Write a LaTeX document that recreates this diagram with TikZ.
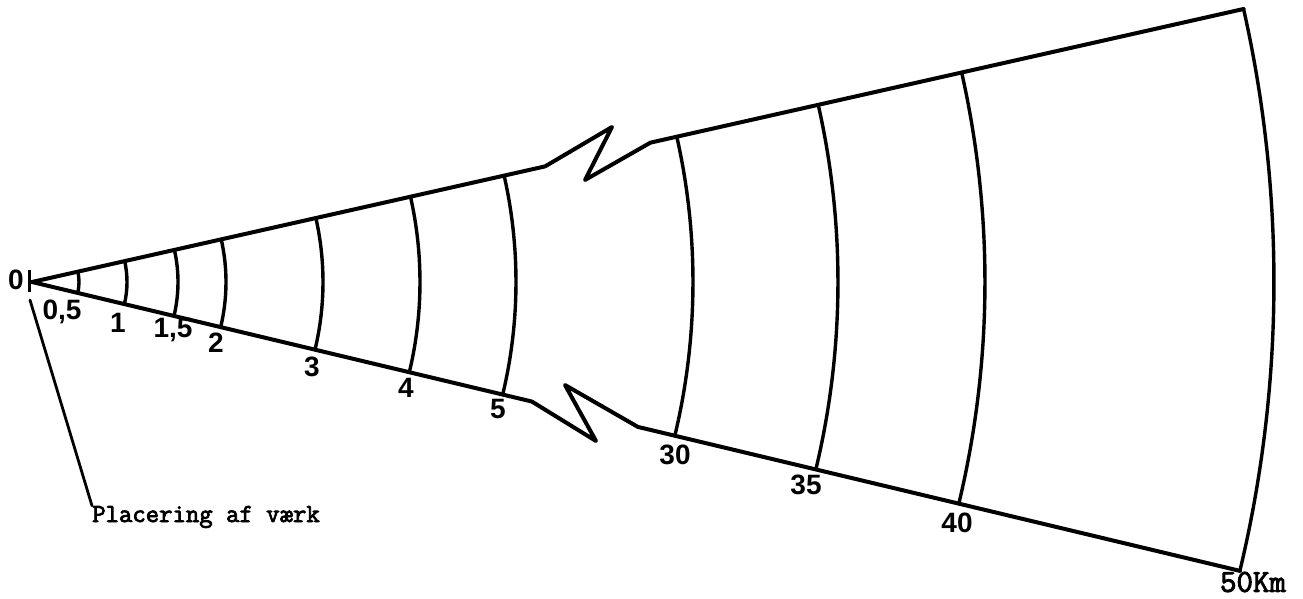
\documentclass[tikz,border=0pt]{standalone}
\usepackage{fontspec}
\newfontfamily\numfont{Liberation Sans}
\newfontfamily\twfont{Latin Modern Mono}[FakeBold=3]
\usetikzlibrary{calc}
\begin{document}
\begin{tikzpicture}[x=1pt,y=1pt,
  edge/.style={line width=4pt, line join=round, line cap=round},
  ring/.style={line width=3.4pt, line cap=round},
  num/.style={font=\numfont\bfseries\fontsize{28}{28}\selectfont, inner sep=0pt},
  tw/.style={font=\twfont\fontsize{26}{26}\selectfont, inner sep=0pt}]
\useasboundingbox (0,0) rectangle (1303,598);
\def\ua{12.7}
\def\la{-13.45}
\coordinate (O) at (32,316);
% upper edge with break
\coordinate (u1) at ($(O)+(\ua:526)$);
\coordinate (u2) at (612,471);
\coordinate (u3) at (585,418);
\coordinate (u4) at ($(O)+(\ua:634)$);
\coordinate (u5) at ($(O)+(\ua:1242)$);
% lower edge with break
\coordinate (l1) at ($(O)+(\la:514)$);
\coordinate (l2) at (596,157);
\coordinate (l3) at (565,213);
\coordinate (l4) at ($(O)+(\la:623)$);
\coordinate (l5) at ($(O)+(\la:1242)$);
\draw[edge] (O) -- (u1) -- (u2) -- (u3) -- (u4) -- (u5);
\draw[edge] (O) -- (l1) -- (l2) -- (l3) -- (l4) -- (l5);
% distance arcs
\foreach \r in {47,95,146,194,291,388,484,661,806,953,1242}
  \draw[ring] ($(O)+(\ua:\r)$) arc[start angle=\ua, end angle=\la, radius=\r pt];
% origin mark
\coordinate (t1) at ($(O)+(-3,12)$);
\coordinate (t2) at ($(O)+(-3,-10)$);
\draw[line width=3pt] (t1) -- (t2);
% labels
\node[num] (n0) at (16,318) {0};
\node[num] (n05) at (62,286) {0,5};
\node[num] (n1) at (118,275) {1};
\node[num] (n15) at (173,268) {1,5};
\node[num] (n2) at (216,255) {2};
\node[num] (n3) at (312,231) {3};
\node[num] (n4) at (406,210) {4};
\node[num] (n5) at (498,189) {5};
\node[num] (n30) at (675,143) {30};
\node[num] (n35) at (806,113) {35};
\node[num] (n40) at (957,75) {40};
\node[tw, font=\twfont\fontsize{32}{32}\selectfont] (n50) at (1253,16) {50Km};
% site label
\node[tw, anchor=base west] (place) at (92,76) {Placering af værk};
\coordinate (lead) at (30,298);
\draw[line width=2.8pt, line cap=round] (lead) -- (place.north west);
\end{tikzpicture}
\end{document}
